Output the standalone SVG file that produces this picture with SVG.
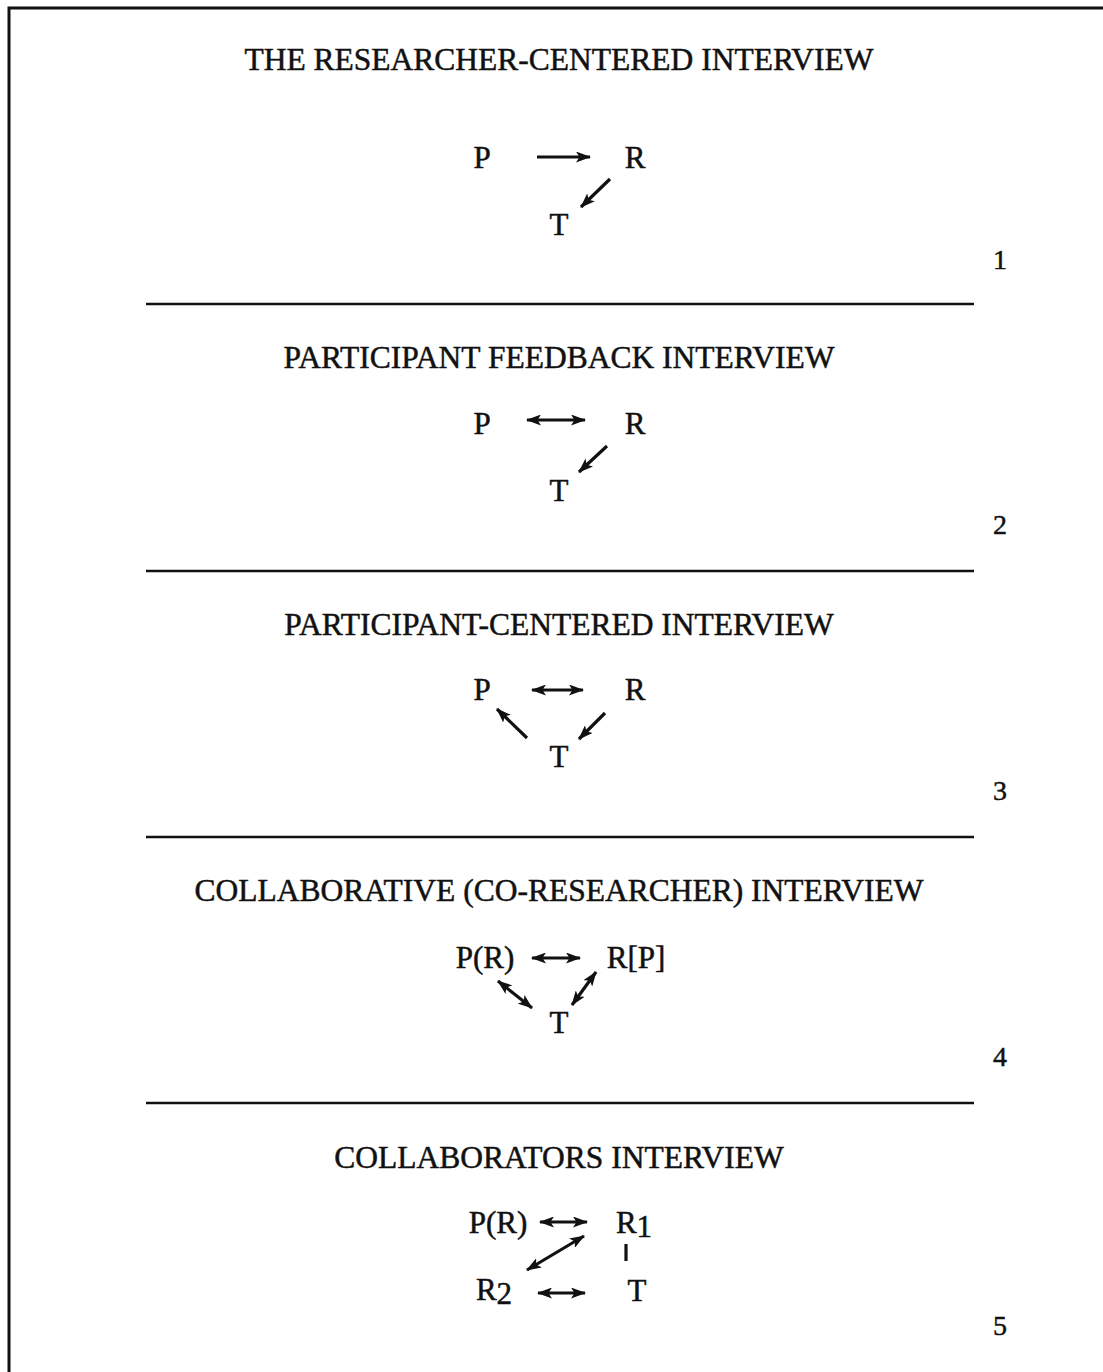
<svg xmlns="http://www.w3.org/2000/svg" width="1103" height="1372" viewBox="0 0 1103 1372">
<defs>
<marker id="ah" viewBox="0 0 15 11" refX="14" refY="5.5" markerWidth="15" markerHeight="11" markerUnits="userSpaceOnUse" orient="auto-start-reverse">
<path d="M0,0 L15,5.5 L0,11 L3.5,5.5 Z" fill="#111"/>
</marker>
</defs>
<style>
text{font-family:"Liberation Serif","Times New Roman",serif;fill:#111;stroke:#111;stroke-width:0.5}
.title{font-size:31.5px;text-anchor:middle}
.lbl{font-size:31px;text-anchor:middle}
.num{font-size:28px;text-anchor:middle}
.sep{stroke:#111;stroke-width:2.5}
.c{stroke:#111;stroke-width:3.2;fill:none}
.one{marker-end:url(#ah)}
.two{marker-end:url(#ah);marker-start:url(#ah)}
</style>
<rect width="1103" height="1372" fill="#fff"/>
<path d="M1110,8 H9 V1380" fill="none" stroke="#111" stroke-width="3"/>
<g id="separators">
<line class="sep" x1="146" y1="304" x2="974" y2="304"/>
<line class="sep" x1="146" y1="571" x2="974" y2="571"/>
<line class="sep" x1="146" y1="837" x2="974" y2="837"/>
<line class="sep" x1="146" y1="1103" x2="974" y2="1103"/>
</g>
<g id="titles">
<text class="title" x="559" y="70">THE RESEARCHER-CENTERED INTERVIEW</text>
<text class="title" x="559" y="368">PARTICIPANT FEEDBACK INTERVIEW</text>
<text class="title" x="559" y="635">PARTICIPANT-CENTERED INTERVIEW</text>
<text class="title" x="559" y="901">COLLABORATIVE (CO-RESEARCHER) INTERVIEW</text>
<text class="title" x="559" y="1168">COLLABORATORS INTERVIEW</text>
</g>
<g id="numbers">
<text class="num" x="1000" y="269">1</text>
<text class="num" x="1000" y="534">2</text>
<text class="num" x="1000" y="800">3</text>
<text class="num" x="1000" y="1066">4</text>
<text class="num" x="1000" y="1335">5</text>
</g>
<g id="s1-P"><text class="lbl" x="482" y="168">P</text></g>
<g id="s1-R"><text class="lbl" x="635" y="168">R</text></g>
<g id="s1-T"><text class="lbl" x="559" y="235">T</text></g>
<g id="s2-P"><text class="lbl" x="482" y="434">P</text></g>
<g id="s2-R"><text class="lbl" x="635" y="434">R</text></g>
<g id="s2-T"><text class="lbl" x="559" y="501">T</text></g>
<g id="s3-P"><text class="lbl" x="482" y="700">P</text></g>
<g id="s3-R"><text class="lbl" x="635" y="700">R</text></g>
<g id="s3-T"><text class="lbl" x="559" y="767">T</text></g>
<g id="s4-PR"><text class="lbl" x="485" y="968">P(R)</text></g>
<g id="s4-RP"><text class="lbl" x="636" y="968">R[P]</text></g>
<g id="s4-T"><text class="lbl" x="559" y="1033">T</text></g>
<g id="s5-PR"><text class="lbl" x="498" y="1233">P(R)</text></g>
<g id="s5-R1"><text class="lbl" x="634" y="1233">R<tspan dy="4">1</tspan></text></g>
<g id="s5-R2"><text class="lbl" x="494" y="1300">R<tspan dy="4">2</tspan></text></g>
<g id="s5-T"><text class="lbl" x="637" y="1301">T</text></g>
<g id="connectors">
<line class="c one" x1="537" y1="157" x2="590" y2="157"/>
<line class="c one" x1="610" y1="179" x2="581" y2="207"/>
<line class="c two" x1="527" y1="420" x2="585" y2="420"/>
<line class="c one" x1="607" y1="446" x2="579" y2="472"/>
<line class="c two" x1="532" y1="690" x2="583" y2="690"/>
<line class="c one" x1="527" y1="738" x2="497" y2="709"/>
<line class="c one" x1="605" y1="713" x2="579" y2="739"/>
<line class="c two" x1="532" y1="958" x2="580" y2="958"/>
<line class="c two" x1="498" y1="981" x2="532" y2="1008"/>
<line class="c two" x1="596" y1="972" x2="572" y2="1005"/>
<line class="c two" x1="540" y1="1222" x2="587" y2="1222"/>
<line class="c two" x1="527" y1="1270" x2="584" y2="1236"/>
<line class="c" x1="626" y1="1244" x2="626" y2="1261"/>
<line class="c two" x1="538" y1="1293" x2="585" y2="1293"/>
</g>
</svg>
